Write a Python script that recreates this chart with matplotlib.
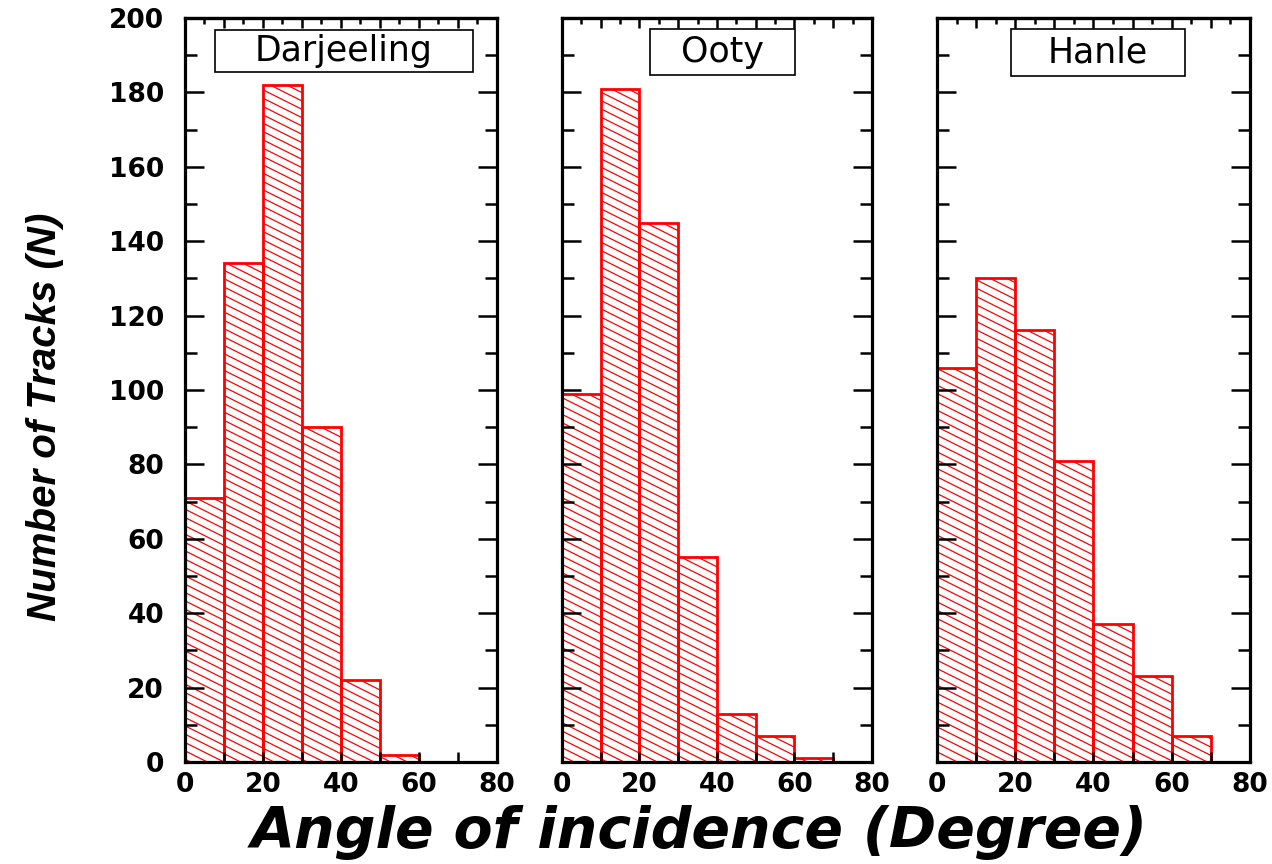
import numpy as np
import matplotlib
matplotlib.use("Agg")
import matplotlib.pyplot as plt
from matplotlib.patches import Rectangle
from matplotlib.path import Path
from matplotlib.ticker import MultipleLocator
from matplotlib.font_manager import FontProperties
import matplotlib.hatch as mhatch

# ---- data: track counts per 10-degree bin of incidence angle ----
bin_starts = [0, 10, 20, 30, 40, 50, 60]
bin_width = 10
sites = ["Darjeeling", "Ooty", "Hanle"]
darjeeling_counts = [71, 134, 182, 90, 22, 2, 0]
ooty_counts = [99, 181, 145, 55, 13, 7, 1]
hanle_counts = [106, 130, 116, 81, 37, 23, 7]
x_ticks = [0, 20, 40, 60, 80]
y_ticks = [0, 20, 40, 60, 80, 100, 120, 140, 160, 180, 200]

counts = [darjeeling_counts, ooty_counts, hanle_counts]


# shallow "\" hatch (slope -1/2) used in place of the default 45-degree one
class ShallowSouthEastHatch(mhatch.HatchPatternBase):
    def __init__(self, hatch, density):
        self.num_lines = int(hatch.count('\\') * density)
        if self.num_lines:
            self.offsets = np.arange(0, int(1.5 * self.num_lines) + 1) / self.num_lines
            self.num_vertices = len(self.offsets) * 2
        else:
            self.num_vertices = 0

    def set_vertices_and_codes(self, vertices, codes):
        y0 = self.offsets
        vertices[0::2, 0] = 0.0
        vertices[0::2, 1] = y0
        vertices[1::2, 0] = 1.0
        vertices[1::2, 1] = y0 - 0.5
        codes[0::2] = Path.MOVETO
        codes[1::2] = Path.LINETO


try:
    mhatch._hatch_types = [ShallowSouthEastHatch if t is mhatch.SouthEastHatch else t
                           for t in mhatch._hatch_types]
except AttributeError:
    pass

plt.rcParams['hatch.linewidth'] = 0.9

fig = plt.figure(figsize=(12.72, 8.64), dpi=100)

axes_rects = [
    [0.1454, 0.1181, 0.2453, 0.8611],
    [0.4418, 0.1181, 0.2437, 0.8611],
    [0.7366, 0.1181, 0.2461, 0.8611],
]
label_boxes = [
    (0.096, 0.927, 0.827, 0.057),
    (0.284, 0.923, 0.468, 0.062),
    (0.236, 0.922, 0.556, 0.063),
]

tick_font = dict(family="DejaVu Sans", weight="bold", size=19)
spine_lw = 2.3

for i, (rect, name, vals, box) in enumerate(zip(axes_rects, sites, counts, label_boxes)):
    ax = fig.add_axes(rect)
    ax.bar(bin_starts, vals, width=bin_width, align="edge",
           facecolor="none", edgecolor="red", linewidth=2.0,
           hatch="\\\\")
    ax.set_xlim(0, 80)
    ax.set_ylim(0, 200)

    for sp in ax.spines.values():
        sp.set_linewidth(spine_lw)
        sp.set_zorder(5)

    # x axis (bottom): labels every 20, ticks every 10
    ax.set_xticks(x_ticks)
    ax.xaxis.set_minor_locator(MultipleLocator(10))
    ax.tick_params(axis="x", which="both", direction="in", bottom=True, top=False,
                   length=7, width=1.8, pad=7)
    # y axis: both sides
    ax.set_yticks(y_ticks)
    ax.yaxis.set_minor_locator(MultipleLocator(10))
    ax.tick_params(axis="y", which="major", direction="in", left=True, right=True,
                   length=14, width=1.8, pad=15, labelleft=(i == 0))
    ax.tick_params(axis="y", which="minor", direction="in", left=True, right=True,
                   length=8.5, width=1.8)
    for lab in ax.get_xticklabels() + ax.get_yticklabels():
        lab.set_fontproperties(FontProperties(**tick_font))

    # top axis: ticks every 5, longer every 10
    sec = ax.secondary_xaxis("top")
    sec.xaxis.set_major_locator(MultipleLocator(10))
    sec.xaxis.set_minor_locator(MultipleLocator(5))
    sec.tick_params(axis="x", which="major", direction="in", length=7.5, width=1.8,
                    labeltop=False)
    sec.tick_params(axis="x", which="minor", direction="in", length=4.5, width=1.8)
    sec.spines["top"].set_linewidth(spine_lw)

    # site name box
    bx, by, bw, bh = box
    ax.add_patch(Rectangle((bx, by), bw, bh, transform=ax.transAxes,
                           facecolor="white", edgecolor="black", linewidth=1.2,
                           zorder=6, clip_on=False))
    ax.text(bx + bw / 2, by + bh / 2, name, transform=ax.transAxes,
            ha="center", va="center", fontsize=25, family="DejaVu Sans",
            zorder=7)

fig.text(0.035, 0.518, "Number of Tracks (N)", rotation=90,
         ha="center", va="center", fontsize=29, fontweight="bold",
         fontstyle="italic", family="Liberation Sans")
fig.text(0.55, 0.037, "Angle of incidence (Degree)", ha="center", va="center",
         fontsize=41, fontweight="bold", fontstyle="italic", family="DejaVu Sans")

fig.savefig("out.png", dpi=100)
